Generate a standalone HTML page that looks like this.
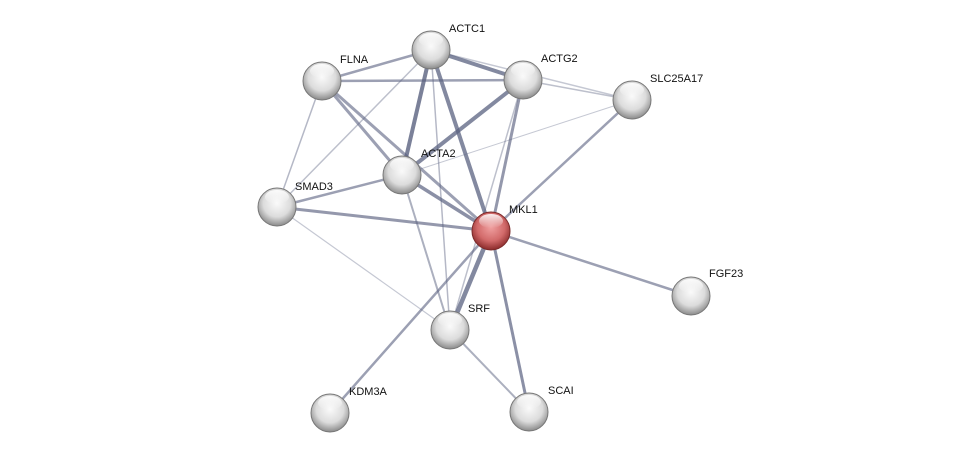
<!DOCTYPE html>
<html><head><meta charset="utf-8"><style>
html,body{margin:0;padding:0;background:#fff;}
svg{display:block;}
text{font-family:"Liberation Sans",sans-serif;font-size:11px;fill:#111;}
</style></head><body>
<svg width="976" height="458" viewBox="0 0 976 458" xmlns="http://www.w3.org/2000/svg">
<defs>
<radialGradient id="g" cx="50%" cy="40%" r="60%">
<stop offset="0" stop-color="#fafafa"/><stop offset="0.6" stop-color="#dcdcdc"/><stop offset="1" stop-color="#8a8a8a"/>
</radialGradient>
<radialGradient id="r" cx="50%" cy="40%" r="60%">
<stop offset="0" stop-color="#f0a0a0"/><stop offset="0.6" stop-color="#d26a6a"/><stop offset="1" stop-color="#8a2a2a"/>
</radialGradient>
<linearGradient id="hl" x1="0" y1="0" x2="0" y2="1">
<stop offset="0" stop-color="#fff" stop-opacity="0.9"/><stop offset="1" stop-color="#fff" stop-opacity="0"/>
</linearGradient>
</defs>
<g stroke="#5a6180" fill="none" stroke-linecap="round">
<line x1="431" y1="50" x2="322" y2="81" stroke-width="2.5" stroke-opacity="0.6"/>
<line x1="431" y1="50" x2="523" y2="80" stroke-width="4" stroke-opacity="0.75"/>
<line x1="431" y1="50" x2="632" y2="100" stroke-width="1.5" stroke-opacity="0.35"/>
<line x1="431" y1="50" x2="402" y2="175" stroke-width="4" stroke-opacity="0.8"/>
<line x1="431" y1="50" x2="491" y2="231" stroke-width="4" stroke-opacity="0.75"/>
<line x1="431" y1="50" x2="277" y2="207" stroke-width="1.5" stroke-opacity="0.4"/>
<line x1="431" y1="50" x2="450" y2="330" stroke-width="1.5" stroke-opacity="0.45"/>
<line x1="322" y1="81" x2="523" y2="80" stroke-width="2.5" stroke-opacity="0.6"/>
<line x1="322" y1="81" x2="402" y2="175" stroke-width="3" stroke-opacity="0.6"/>
<line x1="322" y1="81" x2="491" y2="231" stroke-width="3" stroke-opacity="0.6"/>
<line x1="322" y1="81" x2="277" y2="207" stroke-width="1.5" stroke-opacity="0.45"/>
<line x1="523" y1="80" x2="402" y2="175" stroke-width="4" stroke-opacity="0.75"/>
<line x1="523" y1="80" x2="491" y2="231" stroke-width="3" stroke-opacity="0.65"/>
<line x1="523" y1="80" x2="632" y2="100" stroke-width="1.5" stroke-opacity="0.4"/>
<line x1="523" y1="80" x2="450" y2="330" stroke-width="1.5" stroke-opacity="0.4"/>
<line x1="632" y1="100" x2="491" y2="231" stroke-width="2.5" stroke-opacity="0.6"/>
<line x1="632" y1="100" x2="402" y2="175" stroke-width="1" stroke-opacity="0.35"/>
<line x1="402" y1="175" x2="277" y2="207" stroke-width="2.5" stroke-opacity="0.6"/>
<line x1="402" y1="175" x2="491" y2="231" stroke-width="3.5" stroke-opacity="0.7"/>
<line x1="402" y1="175" x2="450" y2="330" stroke-width="2" stroke-opacity="0.5"/>
<line x1="277" y1="207" x2="491" y2="231" stroke-width="3" stroke-opacity="0.65"/>
<line x1="277" y1="207" x2="450" y2="330" stroke-width="1.2" stroke-opacity="0.35"/>
<line x1="491" y1="231" x2="691" y2="296" stroke-width="2.5" stroke-opacity="0.6"/>
<line x1="491" y1="231" x2="450" y2="330" stroke-width="4.5" stroke-opacity="0.75"/>
<line x1="491" y1="231" x2="330" y2="413" stroke-width="2.5" stroke-opacity="0.6"/>
<line x1="491" y1="231" x2="529" y2="412" stroke-width="3" stroke-opacity="0.7"/>
<line x1="450" y1="330" x2="529" y2="412" stroke-width="2" stroke-opacity="0.5"/>
</g>
<g>
<g transform="translate(431,50)"><circle r="19" fill="url(#g)" stroke="#777" stroke-width="1"/><ellipse cy="-10" rx="12" ry="7" fill="url(#hl)"/></g>
<g transform="translate(322,81)"><circle r="19" fill="url(#g)" stroke="#777" stroke-width="1"/><ellipse cy="-10" rx="12" ry="7" fill="url(#hl)"/></g>
<g transform="translate(523,80)"><circle r="19" fill="url(#g)" stroke="#777" stroke-width="1"/><ellipse cy="-10" rx="12" ry="7" fill="url(#hl)"/></g>
<g transform="translate(632,100)"><circle r="19" fill="url(#g)" stroke="#777" stroke-width="1"/><ellipse cy="-10" rx="12" ry="7" fill="url(#hl)"/></g>
<g transform="translate(402,175)"><circle r="19" fill="url(#g)" stroke="#777" stroke-width="1"/><ellipse cy="-10" rx="12" ry="7" fill="url(#hl)"/></g>
<g transform="translate(277,207)"><circle r="19" fill="url(#g)" stroke="#777" stroke-width="1"/><ellipse cy="-10" rx="12" ry="7" fill="url(#hl)"/></g>
<g transform="translate(491,231)"><circle r="19" fill="url(#r)" stroke="#7a2a2a" stroke-width="1"/><ellipse cy="-10" rx="12" ry="7" fill="url(#hl)"/></g>
<g transform="translate(691,296)"><circle r="19" fill="url(#g)" stroke="#777" stroke-width="1"/><ellipse cy="-10" rx="12" ry="7" fill="url(#hl)"/></g>
<g transform="translate(450,330)"><circle r="19" fill="url(#g)" stroke="#777" stroke-width="1"/><ellipse cy="-10" rx="12" ry="7" fill="url(#hl)"/></g>
<g transform="translate(330,413)"><circle r="19" fill="url(#g)" stroke="#777" stroke-width="1"/><ellipse cy="-10" rx="12" ry="7" fill="url(#hl)"/></g>
<g transform="translate(529,412)"><circle r="19" fill="url(#g)" stroke="#777" stroke-width="1"/><ellipse cy="-10" rx="12" ry="7" fill="url(#hl)"/></g>
</g>
<g>
<text x="449" y="32">ACTC1</text>
<text x="340" y="63">FLNA</text>
<text x="541" y="62">ACTG2</text>
<text x="650" y="82">SLC25A17</text>
<text x="421" y="157">ACTA2</text>
<text x="295" y="190">SMAD3</text>
<text x="509" y="213">MKL1</text>
<text x="709" y="277">FGF23</text>
<text x="468" y="312">SRF</text>
<text x="349" y="395">KDM3A</text>
<text x="548" y="394">SCAI</text>
</g>
</svg>
</body></html>
